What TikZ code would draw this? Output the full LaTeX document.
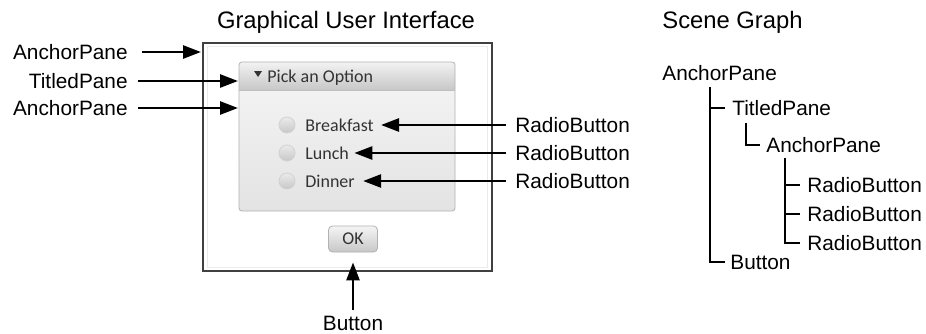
\documentclass[tikz,border=0pt]{standalone}
\usepackage{fontspec}
\setmainfont{Liberation Sans}
\newfontfamily\guifont{Carlito}
\usetikzlibrary{arrows.meta}

\begin{document}
\begin{tikzpicture}[x=0.5pt,y=-0.5pt,>={Triangle[length=9pt,width=6.5pt]},
  font=\fontsize{10.4}{12}\selectfont,
  lbl/.style={inner sep=0pt},
  ttl/.style={inner sep=0pt,font=\fontsize{11.9}{14}\selectfont},
  guitxt/.style={inner sep=0pt,text=black!80,font=\guifont\fontsize{9}{11}\selectfont},
  ptr/.style={->,line width=1.3pt},
  tree/.style={line width=0.6pt}]
\useasboundingbox (0,0) rectangle (926,333);
% titles
\node[ttl] (guiTitle) at (346,22) {Graphical User Interface};
\node[ttl,anchor=west] (sgTitle) at (662,22) {Scene Graph};
% window
\draw[black!75,fill=white,line width=0.6pt] (203,43) rectangle (492,271);
\draw[black!8] (207,46) rectangle (487,267);
% titled pane
\begin{scope}
\clip[rounded corners=1.5pt] (239,62) rectangle (455,211);
\shade[top color=black!5,bottom color=black!22] (239,62) rectangle (455,90);
\shade[top color=black!5,bottom color=black!11] (239,90) rectangle (455,211);
\end{scope}
\draw[black!30,rounded corners=1.5pt] (239,62) rectangle (455,211);
\draw[black!25] (239,90) -- (455,90);
\fill[black!80] (254,71) -- (262,71) -- (258,77) -- cycle;
\node[guitxt,anchor=west] (pickTxt) at (267,78) {Pick an Option};
% radio buttons
\foreach \y in {125,153,181}
  \shade[top color=black!8,bottom color=black!22,draw=black!18] (287,\y) circle[radius=4pt];
\node[guitxt,anchor=west] (rbBreak) at (305,125) {Breakfast};
\node[guitxt,anchor=west] (rbLunch) at (305,153) {Lunch};
\node[guitxt,anchor=west] (rbDinner) at (305,181) {Dinner};
% ok button
\node[guitxt,draw=black!30,top color=black!4,bottom color=black!22,rounded corners=2pt,
  minimum width=24.5pt,minimum height=13pt] (okBtn) at (353,239) {OK};
% left labels
\node[lbl,anchor=east] (lAnchor) at (128,52) {AnchorPane};
\node[lbl,anchor=east] (lTitled) at (128,81) {TitledPane};
\node[lbl,anchor=east] (lInner) at (128,108) {AnchorPane};
\coordinate (winW) at (201,52);
\coordinate (paneHead) at (238,81);
\coordinate (paneBody) at (238,108);
\draw[ptr] ([xshift=7pt]lAnchor.east) -- (winW);
\draw[ptr] ([xshift=5pt]lTitled.east) -- (paneHead);
\draw[ptr] ([xshift=5pt]lInner.east) -- (paneBody);
% right labels
\node[lbl,anchor=west] (rLblA) at (515,125) {RadioButton};
\node[lbl,anchor=west] (rLblB) at (515,153) {RadioButton};
\node[lbl,anchor=west] (rLblC) at (515,181) {RadioButton};
\draw[ptr] ([xshift=-4.5pt]rLblA.west) -- ([xshift=3.5pt]rbBreak.east);
\draw[ptr] ([xshift=-4.5pt]rLblB.west) -- ([xshift=2.5pt]rbLunch.east);
\draw[ptr] ([xshift=-4.5pt]rLblC.west) -- ([xshift=4pt]rbDinner.east);
% bottom label
\node[lbl] (bLbl) at (353,323) {Button};
\draw[ptr] ([yshift=2.75pt]bLbl.north) -- ([yshift=-5pt]okBtn.south);
% scene graph
\node[lbl,anchor=west] (sgRoot) at (662,73) {AnchorPane};
\node[lbl,anchor=west] (sgTitled) at (732,108) {TitledPane};
\node[lbl,anchor=west] (sgInner) at (766,145) {AnchorPane};
\node[lbl,anchor=west] (sgRbA) at (807,185) {RadioButton};
\node[lbl,anchor=west] (sgRbB) at (807,214) {RadioButton};
\node[lbl,anchor=west] (sgRbC) at (807,243) {RadioButton};
\node[lbl,anchor=west] (sgBtn) at (730,262) {Button};
\coordinate (trunkA) at (710,87);
\coordinate (trunkB) at (746,123);
\coordinate (trunkC) at (785,158);
\draw[tree] (trunkA) |- ([xshift=-2.5pt]sgBtn.west);
\draw[tree] (trunkA |- sgTitled.west) -- ([xshift=-3.5pt]sgTitled.west);
\draw[tree] (trunkB) |- ([xshift=-3pt]sgInner.west);
\draw[tree] (trunkC) |- ([xshift=-3.5pt]sgRbC.west);
\draw[tree] (trunkC |- sgRbA.west) -- ([xshift=-3.5pt]sgRbA.west);
\draw[tree] (trunkC |- sgRbB.west) -- ([xshift=-3.5pt]sgRbB.west);
\end{tikzpicture}
\end{document}
